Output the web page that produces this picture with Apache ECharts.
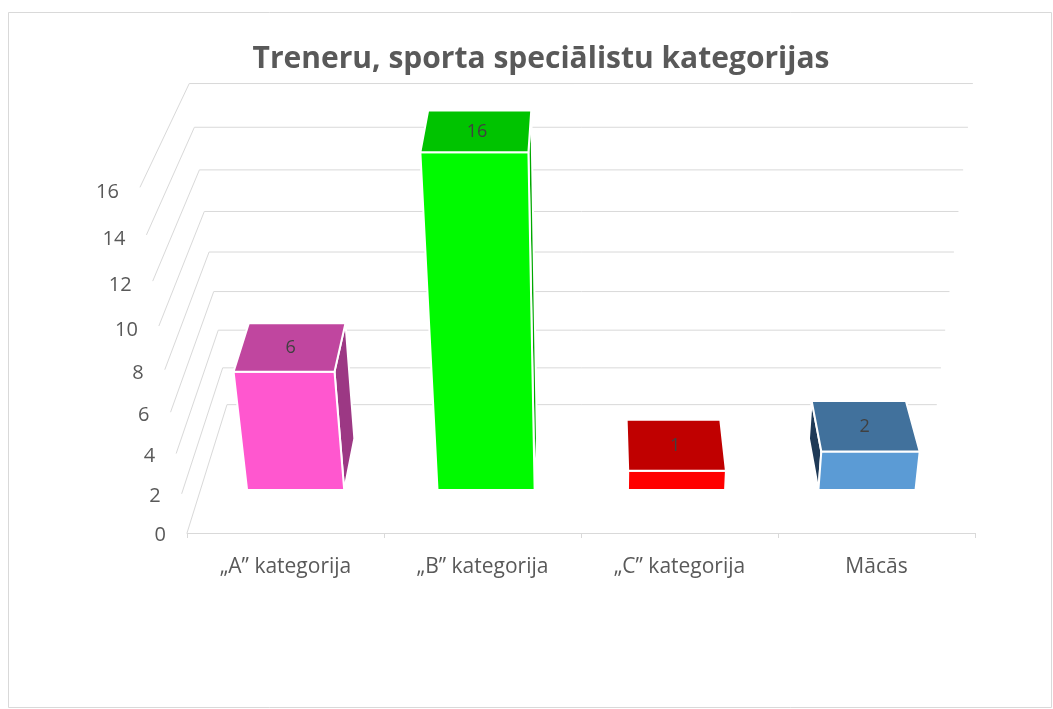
<!DOCTYPE html>
<html>
<head>
<meta charset="utf-8">
<script src="https://cdn.jsdelivr.net/npm/echarts@6/dist/echarts.min.js"></script>
<style>
  html, body { margin: 0; padding: 0; background: #ffffff; }
  #chart { width: 1053px; height: 709px; }
</style>
</head>
<body>
<div id="chart"></div>
<script>
// ---- data ----
const categories = ['„A” kategorija', '„B” kategorija', '„C” kategorija', 'Mācās'];
const values = [6, 16, 1, 2];
const yTicks = [0, 2, 4, 6, 8, 10, 12, 14, 16];
const titleText = 'Treneru, sporta speciālistu kategorijas';

// ---- styles ----
const frontColors = ['#FF57CF', '#00FA00', '#FF0000', '#5B9BD5'];
const topColors = ['#C0469F', '#00C300', '#C00000', '#41719C'];
const sideColors = ['#9C3884', '#00A800', '#A00000', '#1F3A57'];
const FONT = 'Open Sans';
const GRID_COLOR = '#D9D9D9';
const TEXT_COLOR = '#595959';

// ---- perspective camera (fitted to the reference view) ----
const CAM = { cx: 590, cy: 355, f: 1871, sinA: 0.512, cosA: 0.859 };
const D_BACK = 240, BAR_D0 = 75, BAR_D1 = 172, BAR_W = 0.51;

function makeProjector(api) {
  const floorY = api.coord([0, 0])[1];
  const y0 = CAM.cy - floorY;
  return function (px, py, d) {
    const X = px - CAM.cx;
    const h = floorY - py;
    const y = y0 + h * CAM.cosA + d * CAM.sinA;
    const z = CAM.f - h * CAM.sinA + d * CAM.cosA;
    return [CAM.cx + CAM.f * X / z, CAM.cy - CAM.f * y / z];
  };
}

const chart = echarts.init(document.getElementById('chart'));

const option = {
  backgroundColor: '#ffffff',
  animation: false,
  title: {
    text: titleText,
    left: 536,
    textAlign: 'center',
    top: 39,
    textStyle: { fontFamily: FONT, fontSize: 30, fontWeight: 'bold', color: TEXT_COLOR }
  },
  graphic: [{
    type: 'rect',
    shape: { x: 8.5, y: 12.5, width: 1043, height: 695 },
    style: { fill: 'none', stroke: '#D9D9D9', lineWidth: 1 },
    silent: true, z: -10
  }],
  grid: { left: 187, right: 78, top: 151, bottom: 176 },
  xAxis: {
    type: 'category',
    data: categories,
    axisLine: { show: true, lineStyle: { color: GRID_COLOR, width: 1 } },
    axisTick: { show: true, length: 5, lineStyle: { color: GRID_COLOR } },
    axisLabel: { fontFamily: FONT, fontSize: 21, color: TEXT_COLOR, margin: 24 },
    splitLine: { show: false }
  },
  yAxis: {
    type: 'value', min: 0, max: 16, interval: 2,
    show: false
  },
  series: [
    {
      type: 'custom',
      name: 'grid',
      silent: true,
      z: 1,
      data: yTicks.map(v => [0, v]),
      renderItem: function (params, api) {
        const P = makeProjector(api);
        const v = api.value(1);
        const c = api.coord([0, v]);
        const band = api.size([1, 0])[0];
        const left = c[0] - band / 2;
        const right = left + band * categories.length;
        const a = P(left, c[1], 0);
        const b = P(left, c[1], D_BACK);
        const e = P(right, c[1], D_BACK);
        return {
          type: 'group',
          children: [
            { type: 'polyline', shape: { points: [a, b, e] },
              style: { stroke: GRID_COLOR, lineWidth: 1, fill: 'none' } },
            { type: 'text', x: a[0] - 21, y: a[1] + 2 + v * 0.2,
              style: { text: String(v), textAlign: 'right', textVerticalAlign: 'middle',
                       fontFamily: FONT, fontSize: 20, fill: TEXT_COLOR } }
          ]
        };
      }
    },
    {
      type: 'custom',
      name: 'bars',
      z: 2,
      data: values.map((v, i) => [i, v]),
      renderItem: function (params, api) {
        const P = makeProjector(api);
        const i = api.value(0);
        const v = api.value(1);
        const t = api.coord([i, v]);
        const bt = api.coord([i, 0]);
        const band = api.size([1, 0])[0];
        const half = band * BAR_W / 2;
        const xl = t[0] - half, xr = t[0] + half;
        const top = t[1], bot = bt[1];
        const FBL = P(xl, bot, BAR_D0), FBR = P(xr, bot, BAR_D0);
        const FTL = P(xl, top, BAR_D0), FTR = P(xr, top, BAR_D0);
        const BBL = P(xl, bot, BAR_D1), BBR = P(xr, bot, BAR_D1);
        const BTL = P(xl, top, BAR_D1), BTR = P(xr, top, BAR_D1);
        const stroke = { stroke: '#ffffff', lineWidth: 2, lineJoin: 'round' };
        const children = [];
        if (xr < CAM.cx) {
          children.push({ type: 'polygon', shape: { points: [FBR, BBR, BTR, FTR] },
            style: Object.assign({ fill: sideColors[i] }, stroke) });
        }
        if (xl > CAM.cx) {
          children.push({ type: 'polygon', shape: { points: [FBL, BBL, BTL, FTL] },
            style: Object.assign({ fill: sideColors[i] }, stroke) });
        }
        children.push({ type: 'polygon', shape: { points: [FBL, FBR, FTR, FTL] },
          style: Object.assign({ fill: frontColors[i] }, stroke) });
        children.push({ type: 'polygon', shape: { points: [FTL, FTR, BTR, BTL] },
          style: Object.assign({ fill: topColors[i] }, stroke) });
        const lc = P(t[0], top, (BAR_D0 + BAR_D1) / 2);
        children.push({ type: 'text', x: lc[0], y: lc[1] + 1,
          style: { text: String(v), textAlign: 'center', textVerticalAlign: 'middle',
                   fontFamily: FONT, fontSize: 18, fill: '#404040' } });
        return { type: 'group', children: children };
      }
    }
  ]
};

chart.setOption(option);
</script>
</body>
</html>
